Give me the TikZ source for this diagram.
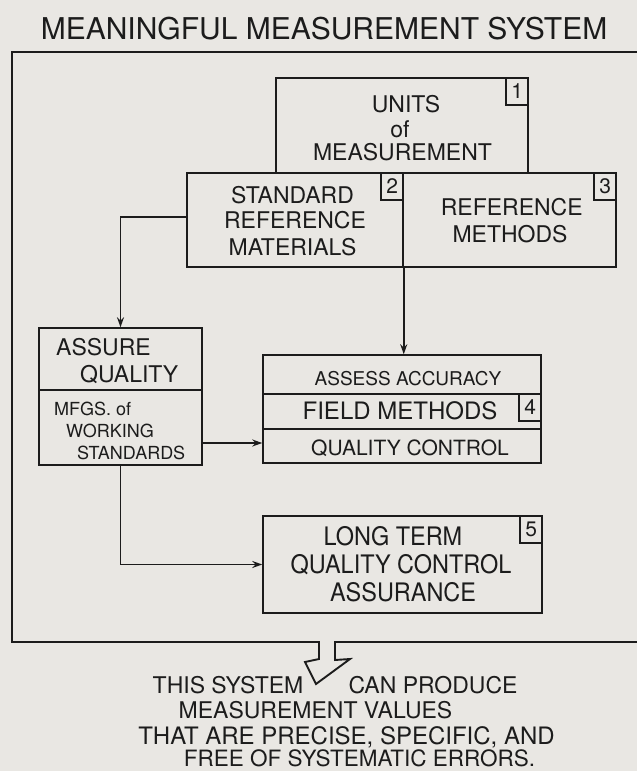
\documentclass[tikz,border=0pt]{standalone}
\usepackage{fontspec}
\setmainfont{TeX Gyre Heros}
\usetikzlibrary{arrows.meta}
\definecolor{paper}{RGB}{233,231,227}
\definecolor{ink}{RGB}{28,28,28}
\newcommand{\narrow}[1]{\scalebox{0.92}[1]{#1}}
\begin{document}
\begin{tikzpicture}[x=1pt,y=-1pt,
  every node/.style={text=ink},
  frame/.style={draw=ink, line width=1.9pt, line join=miter},
  box/.style={draw=ink, line width=1.5pt, inner sep=0pt},
  num/.style={draw=ink, line width=1.3pt, inner sep=0pt, minimum width=22pt, minimum height=27pt, anchor=north east, font=\fontsize{21}{21}\selectfont},
  lbl/.style={inner sep=0pt, anchor=base, font=\fontsize{23}{23}\selectfont},
  lblw/.style={lbl, anchor=base west},
  conn/.style={draw=ink, line width=1.6pt, -{Stealth[length=10pt,width=7pt]}},
]
\useasboundingbox (0,0) rectangle (637,771);
\fill[paper] (0,0) rectangle (637,771);

% title
\node[lbl, font=\fontsize{30}{30}\selectfont] (title) at (324,39) {MEANINGFUL MEASUREMENT SYSTEM};

% outer frame with hollow output arrow
\draw[frame] (637,52) -- (12,52) -- (12,642) -- (319,642) -- (319,659) -- (305,662)
  -- (316,684) -- (350,659) -- (335,660) -- (335,642) -- (637,642);

% boxes
\node[box, minimum width=252pt, minimum height=95pt] (b1) at (402,125.5) {};
\node[box, minimum width=216pt, minimum height=94pt] (b2) at (295,220) {};
\node[box, minimum width=213pt, minimum height=94pt] (b3) at (509.5,220) {};
\node[box, minimum width=163pt, minimum height=62pt] (aq) at (120.5,359) {};
\node[box, minimum width=163pt, minimum height=75pt] (mw) at (120.5,427.5) {};
\node[box, minimum width=278pt, minimum height=39pt] (fa) at (402,374.5) {};
\node[box, minimum width=278pt, minimum height=35pt] (fm) at (402,411.5) {};
\node[box, minimum width=278pt, minimum height=34pt] (fq) at (402,446) {};
\node[box, minimum width=279pt, minimum height=97pt] (b5) at (402.5,564.5) {};

% number tags
\node[num] (n1) at (b1.north east) {1};
\node[num] (n2) at (b2.north east) {2};
\node[num] (n3) at (b3.north east) {3};
\node[num] (n4) at (fm.north east) {4};
\node[num] (n5) at (b5.north east) {5};

% box texts
\node[lbl] (t1a) at (406,112) {UNITS};
\node[lbl] (t1b) at (400,137) {of};
\node[lbl] (t1c) at (402.5,160) {MEASUREMENT};
\node[lbl] (t2a) at (292.5,203) {STANDARD};
\node[lbl] (t2b) at (295,228) {REFERENCE};
\node[lbl] (t2c) at (292.5,255) {MATERIALS};
\node[lbl] (t3a) at (511.7,215) {REFERENCE};
\node[lbl] (t3b) at (510,242) {METHODS};
\node[lblw] (taa) at (56,355) {ASSURE};
\node[lblw] (tab) at (80,382) {QUALITY};
\node[lblw, font=\fontsize{18}{18}\selectfont] (tma) at (54,415) {MFGS. of};
\node[lblw, font=\fontsize{18}{18}\selectfont] (tmb) at (66,437) {WORKING};
\node[lblw, font=\fontsize{18}{18}\selectfont] (tmc) at (77,459) {STANDARDS};
\node[lbl, font=\fontsize{19}{19}\selectfont] (tfa) at (408,385) {ASSESS ACCURACY};
\node[lbl, font=\fontsize{24}{24}\selectfont] (tfm) at (400,419) {FIELD METHODS};
\node[lbl, font=\fontsize{21}{21}\selectfont] (tfq) at (410,455) {QUALITY CONTROL};
\node[lbl, font=\fontsize{25.5}{25.5}\selectfont] (t5a) at (393,545) {\narrow{LONG TERM}};
\node[lbl, font=\fontsize{25.5}{25.5}\selectfont] (t5b) at (401,573) {\narrow{QUALITY CONTROL}};
\node[lbl, font=\fontsize{25.5}{25.5}\selectfont] (t5c) at (403,601) {\narrow{ASSURANCE}};

% connectors
\draw[conn] ([yshift=3pt]b2.west) -| (aq.north);
\draw[conn] (b2.south east) -- (b2.south east |- fa.north);
\draw[conn] ([yshift=-15.5pt]mw.east) coordinate (m1) -- (m1 -| fq.west);
\draw[conn] (mw.south) |- (b5.west);

% bottom statement
\node[lbl] (s1a) at (228,693) {THIS SYSTEM};
\node[lbl] (s1b) at (433,693) {CAN PRODUCE};
\node[lbl] (s2) at (315.5,718) {MEASUREMENT VALUES};
\node[lbl, font=\fontsize{24}{24}\selectfont] (s3) at (346.5,744) {THAT ARE PRECISE, SPECIFIC, AND};
\node[lbl, font=\fontsize{22.5}{22.5}\selectfont] (s4) at (359.5,766) {FREE OF SYSTEMATIC ERRORS.};
\end{tikzpicture}
\end{document}
